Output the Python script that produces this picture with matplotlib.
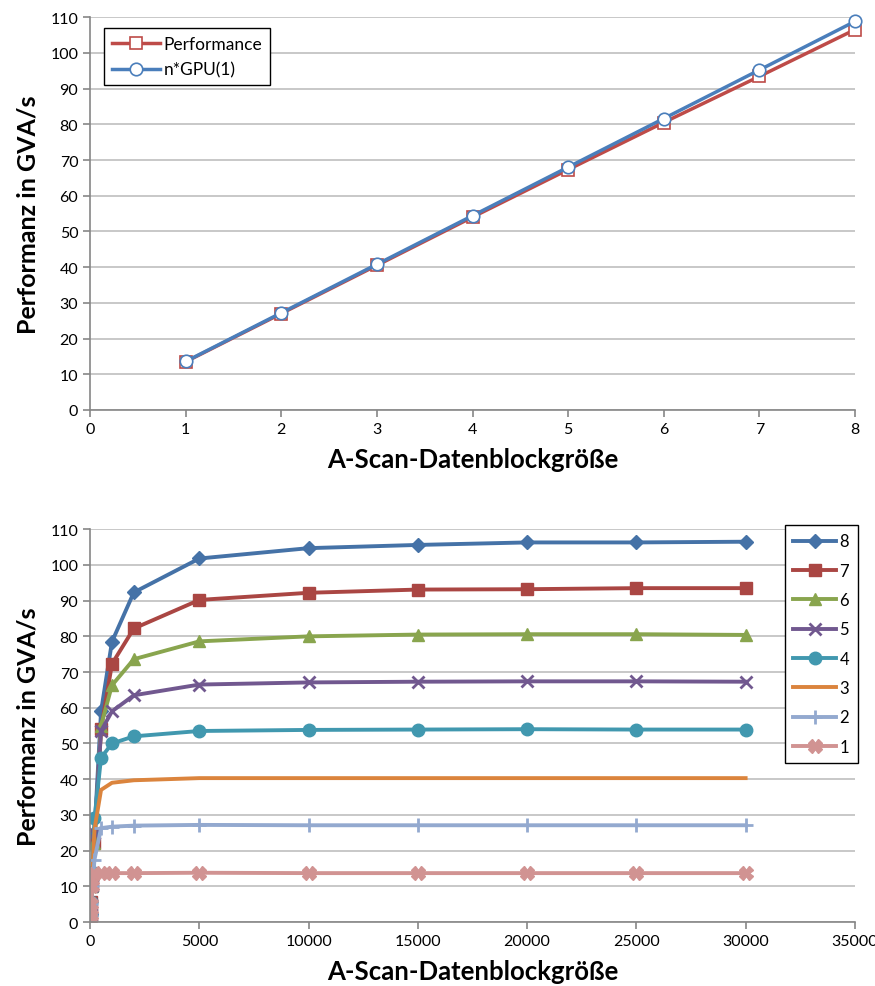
import matplotlib.pyplot as plt

plt.rcParams['font.family'] = ['Lato', 'DejaVu Sans']

# Top panel: scaling with number of GPUs
gpus = [1, 2, 3, 4, 5, 6, 7, 8]
performance = [13.5, 27.0, 40.5, 54.0, 67.3, 80.5, 93.4, 106.5]
n_gpu1 = [13.6, 27.2, 40.8, 54.4, 68.0, 81.6, 95.2, 108.8]

# Bottom panel: throughput vs. block size per GPU count
block_sizes = [10, 20, 50, 100, 200, 500, 1000, 2000, 5000, 10000, 15000, 20000, 25000, 30000]
series = {
    '8': [1.0, 2.2, 6.0, 12.0, 25.0, 59.0, 78.5, 92.3, 101.8, 104.7, 105.6, 106.3, 106.3, 106.5],
    '7': [1.0, 2.1, 5.5, 10.5, 22.0, 54.0, 72.3, 82.2, 90.2, 92.2, 93.1, 93.2, 93.5, 93.5],
    '6': [1.0, 2.0, 5.2, 10.0, 22.0, 55.0, 66.3, 73.6, 78.6, 80.0, 80.5, 80.6, 80.6, 80.4],
    '5': [1.0, 2.0, 5.0, 10.0, 25.0, 53.5, 59.0, 63.5, 66.5, 67.1, 67.3, 67.4, 67.4, 67.3],
    '4': [1.0, 2.0, 5.5, 14.0, 29.0, 46.0, 50.0, 52.0, 53.5, 53.8, 53.9, 54.0, 53.9, 53.9],
    '3': [1.0, 2.0, 5.5, 13.5, 26.0, 37.0, 39.0, 39.7, 40.3, 40.3, 40.3, 40.3, 40.3, 40.3],
    '2': [1.0, 2.0, 5.0, 10.0, 17.5, 26.3, 26.7, 27.0, 27.2, 27.1, 27.1, 27.1, 27.1, 27.1],
    '1': [1.0, 2.0, 5.0, 10.0, 13.5, 13.6, 13.7, 13.7, 13.8, 13.7, 13.7, 13.7, 13.7, 13.7],
}
styles = {
    '8': ('#4572A7', 'D', 7),
    '7': ('#AA4643', 's', 9),
    '6': ('#89A54E', '^', 9),
    '5': ('#71588F', 'x', 9),
    '4': ('#4198AF', 'o', 9),
    '3': ('#DB843D', None, 0),
    '2': ('#93A9CF', '+', 10),
    '1': ('#D19392', 'X', 10),
}

fig = plt.figure(figsize=(8.75, 9.87), dpi=100)

grid_col = '#BFBFBF'
axis_col = '#868686'


def style_axes(ax):
    ax.set_axisbelow(True)
    ax.grid(axis='y', color=grid_col, linewidth=1.2)
    for s in ('top', 'right'):
        ax.spines[s].set_visible(False)
    for s in ('left', 'bottom'):
        ax.spines[s].set_color(axis_col)
        ax.spines[s].set_linewidth(1.2)
    ax.tick_params(direction='out', color=axis_col, length=5, labelsize=11.5, width=1.2)
    ax.set_ylabel('Performanz in GVA/s', fontsize=18, fontweight='bold', labelpad=8)
    ax.set_xlabel('A-Scan-Datenblockgröße', fontsize=18.5, fontweight='bold', labelpad=8)


ax1 = fig.add_axes([0.103, 0.5836, 0.874, 0.398])
ax1.plot(gpus, performance, color='#BE4B48', lw=2.5, marker='s', ms=9,
         mfc='white', mec='#BE4B48', mew=1.2, label='Performance', clip_on=False)
ax1.plot(gpus, n_gpu1, color='#4A7EBB', lw=2.5, marker='o', ms=9,
         mfc='white', mec='#4A7EBB', mew=1.2, label='n*GPU(1)', clip_on=False)
ax1.set_xlim(0, 8)
ax1.set_ylim(0, 110)
ax1.set_xticks(range(0, 9))
ax1.set_yticks(range(0, 111, 10))
style_axes(ax1)
leg1 = ax1.legend(loc='upper left', bbox_to_anchor=(0.018, 0.972), fontsize=12.5,
                  fancybox=False, edgecolor='black', framealpha=1, handlelength=2.8,
                  borderpad=0.45, labelspacing=0.55, handletextpad=0.2,
                  borderaxespad=0)
leg1.get_frame().set_linewidth(1.0)

ax2 = fig.add_axes([0.103, 0.0648, 0.874, 0.398])
for name in series:
    col, mk, ms = styles[name]
    ax2.plot(block_sizes, series[name], color=col, lw=2.8, marker=mk, ms=ms,
             mfc=col, mec=col, mew=2.0 if mk in ('x', '+') else 1.0, label=name)
ax2.set_xlim(0, 35000)
ax2.set_ylim(0, 110)
ax2.set_xticks(range(0, 35001, 5000))
ax2.set_yticks(range(0, 111, 10))
style_axes(ax2)
leg2 = fig.legend(*ax2.get_legend_handles_labels(), loc='upper right',
                  bbox_to_anchor=(0.98, 0.467), fontsize=12, fancybox=False,
                  edgecolor='black', framealpha=1, handlelength=2.6,
                  borderpad=0.5, labelspacing=0.8, handletextpad=0.2,
                  borderaxespad=0)
leg2.get_frame().set_linewidth(1.0)

fig.savefig('out.png', dpi=100)
